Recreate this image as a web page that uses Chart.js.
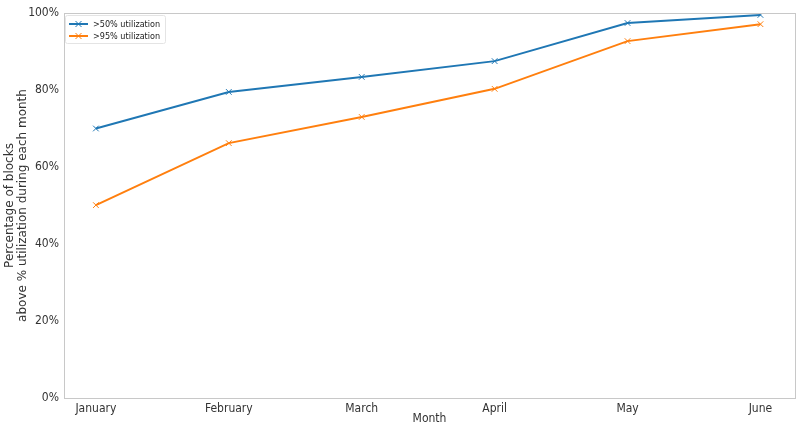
<!DOCTYPE html>
<html>
<head>
<meta charset="utf-8">
<script src="https://cdn.jsdelivr.net/npm/chart.js@4"></script>
<style>
  html, body { margin: 0; padding: 0; background: #fff; }
  #wrap { width: 800px; height: 425px; }
</style>
</head>
<body>
<div id="wrap"><canvas id="chart"></canvas></div>
<script>
// 데이터
const months = ['January', 'February', 'March', 'April', 'May', 'June'];
const over50 = [70.0, 79.5, 83.4, 87.5, 97.4, 99.5];
const over95 = [50.1, 66.2, 73.0, 80.3, 92.7, 97.1];
const yTicks = [0, 20, 40, 60, 80, 100];

const FONT = '"DejaVu Sans Condensed", "DejaVu Sans"';
const GREY = '#c8c8c8';

function toPoints(values) {
    return values.map((v, i) => ({ x: i, y: v }));
}

// 플롯 테두리
const frame = {
    id: 'frame',
    afterDatasetsDraw(chart) {
        const a = chart.chartArea, ctx = chart.ctx;
        ctx.save();
        ctx.strokeStyle = GREY;
        ctx.lineWidth = 1;
        ctx.strokeRect(a.left + 0.5, a.top + 0.5, a.right - a.left, a.bottom - a.top);
        ctx.restore();
    }
};

// 범례 (플롯 안쪽 왼쪽 위)
const innerLegend = {
    id: 'innerLegend',
    afterDraw(chart) {
        const ctx = chart.ctx, a = chart.chartArea;
        const x0 = a.left + 1, y0 = a.top + 2;
        ctx.save();
        ctx.font = '9px ' + FONT;
        const w = 100, h = 28;
        ctx.fillStyle = 'rgba(255,255,255,0.85)';
        ctx.strokeStyle = '#e4e4e4';
        ctx.lineWidth = 1;
        ctx.beginPath();
        ctx.roundRect(x0 + 0.5, y0 + 0.5, w, h, 2);
        ctx.fill();
        ctx.stroke();
        chart.data.datasets.forEach((ds, i) => {
            const y = y0 + 9 + i * 12;
            ctx.strokeStyle = ds.borderColor;
            ctx.lineWidth = 2;
            ctx.beginPath();
            ctx.moveTo(x0 + 4, y);
            ctx.lineTo(x0 + 23, y);
            ctx.stroke();
            ctx.lineWidth = 1;
            ctx.beginPath();
            ctx.moveTo(x0 + 10.5, y - 3); ctx.lineTo(x0 + 16.5, y + 3);
            ctx.moveTo(x0 + 10.5, y + 3); ctx.lineTo(x0 + 16.5, y - 3);
            ctx.stroke();
            ctx.fillStyle = '#222';
            ctx.textBaseline = 'middle';
            ctx.fillText(ds.label, x0 + 28, y + 0.5);
        });
        ctx.restore();
    }
};

function makeDataset(label, values, color) {
    return {
        label: label,
        data: toPoints(values),
        borderColor: color,
        backgroundColor: color,
        borderWidth: 2,
        pointStyle: 'crossRot',
        pointRadius: 4,
        pointBorderWidth: 1,
        tension: 0
    };
}

new Chart(document.getElementById('chart'), {
    type: 'line',
    data: {
        datasets: [
            makeDataset('>50% utilization', over50, '#1f77b4'),
            makeDataset('>95% utilization', over95, '#ff7f0e')
        ]
    },
    options: {
        responsive: true,
        maintainAspectRatio: false,
        animation: false,
        layout: { padding: { top: 13, right: 5, left: 4, bottom: 0 } },
        plugins: { legend: { display: false }, tooltip: { enabled: false } },
        scales: {
            x: {
                type: 'linear',
                min: -0.24,
                max: 5.26,
                afterBuildTicks(scale) {
                    scale.ticks = months.map((m, i) => ({ value: i }));
                },
                afterFit(scale) { scale.height = 27; },
                grid: { display: false, drawOnChartArea: false, drawTicks: true, tickLength: 3, tickColor: GREY },
                border: { display: false },
                ticks: {
                    color: '#333',
                    font: { family: FONT, size: 12 },
                    padding: 1,
                    maxRotation: 0,
                    autoSkip: false,
                    callback: v => months[v]
                },
                title: {
                    display: true,
                    text: 'Month',
                    color: '#333',
                    font: { family: FONT, size: 12 },
                    padding: { top: 0, bottom: -1 }
                }
            },
            y: {
                min: 0,
                max: 100,
                afterBuildTicks(scale) {
                    scale.ticks = yTicks.map(v => ({ value: v }));
                },
                afterFit(scale) { scale.width = 60; },
                grid: { display: false, drawOnChartArea: false, drawTicks: true, tickLength: 3, tickColor: GREY },
                border: { display: false },
                ticks: {
                    color: '#333',
                    font: { family: FONT, size: 12 },
                    padding: 2,
                    callback: v => v + '%'
                },
                title: {
                    display: true,
                    text: ['Percentage of blocks', 'above % utilization during each month'],
                    color: '#333',
                    font: { family: 'DejaVu Sans', size: 12, lineHeight: 1.05 },
                    padding: 0
                }
            }
        }
    },
    plugins: [frame, innerLegend]
});
</script>
</body>
</html>
